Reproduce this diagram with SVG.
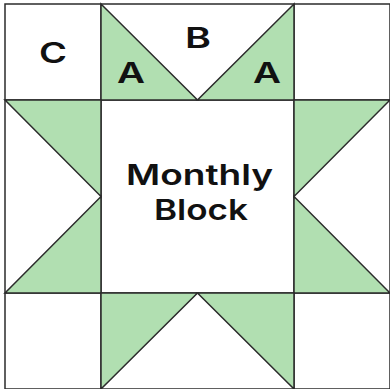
<svg xmlns="http://www.w3.org/2000/svg" width="390" height="389" viewBox="0 0 390 389">
<style>
.g{fill:#b1dfb1;stroke:#2b2b2b;stroke-width:1.5;stroke-linejoin:miter}
.w{fill:#ffffff;stroke:#2b2b2b;stroke-width:1.5}
.t{font-family:Inter,"DejaVu Sans",sans-serif;font-weight:600;fill:#111;text-anchor:middle}
</style>
<rect width="390" height="389" fill="#ffffff"/>
<g id="grid">
<rect class="w" x="5" y="4" width="385" height="385"/>
<line x1="101" y1="4" x2="101" y2="389" stroke="#2b2b2b" stroke-width="1.5"/>
<line x1="294" y1="4" x2="294" y2="389" stroke="#2b2b2b" stroke-width="1.5"/>
<line x1="5" y1="100" x2="390" y2="100" stroke="#2b2b2b" stroke-width="1.5"/>
<line x1="5" y1="293" x2="390" y2="293" stroke="#2b2b2b" stroke-width="1.5"/>
</g>
<g id="top">
<polygon class="g" points="101,4 101,100 197.5,100"/>
<polygon class="g" points="294,4 294,100 197.5,100"/>
</g>
<g id="left">
<polygon class="g" points="5,100 101,100 101,196.5"/>
<polygon class="g" points="5,293 101,293 101,196.5"/>
</g>
<g id="right">
<polygon class="g" points="390,100 294,100 294,196.5"/>
<polygon class="g" points="390,293 294,293 294,196.5"/>
</g>
<g id="bottom">
<polygon class="g" points="101,389 101,293 197.5,293"/>
<polygon class="g" points="294,389 294,293 197.5,293"/>
</g>
<g id="labels">
<text class="t" x="53" y="63" font-size="28" textLength="28" lengthAdjust="spacingAndGlyphs">C</text>
<text class="t" x="131" y="83" font-size="28" textLength="28" lengthAdjust="spacingAndGlyphs">A</text>
<text class="t" x="198" y="48" font-size="28" textLength="26" lengthAdjust="spacingAndGlyphs">B</text>
<text class="t" x="267" y="83" font-size="28" textLength="28" lengthAdjust="spacingAndGlyphs">A</text>
</g>
<g id="center">
<text class="t" x="199.5" y="185" font-size="28" textLength="147" lengthAdjust="spacingAndGlyphs">Monthly</text>
<text class="t" x="201" y="220" font-size="28" textLength="94" lengthAdjust="spacingAndGlyphs">Block</text>
</g>
</svg>
